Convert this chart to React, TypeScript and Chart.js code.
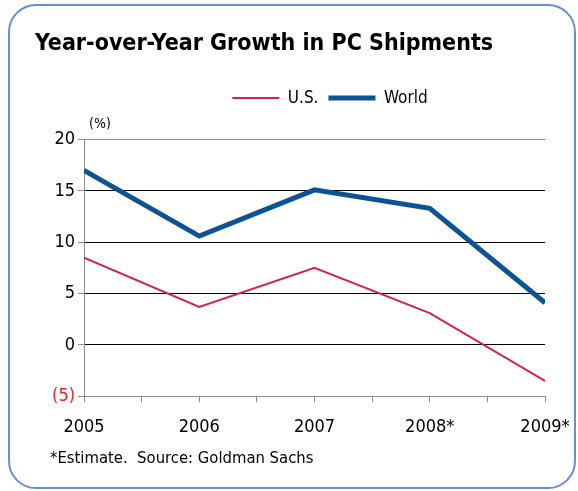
import React, { useEffect, useRef } from 'react';
import { Chart, registerables } from 'chart.js';

Chart.register(...registerables);

const categories = ['2005', '2006', '2007', '2008*', '2009*'];
const usGrowth = [8.5, 3.7, 7.5, 3.1, -3.5];
const worldGrowth = [17.0, 10.6, 15.1, 13.3, 4.1];
const seriesNames = ['U.S.', 'World'];
const yMin = -5;
const yMax = 20;
const yStep = 5;
const titleText = 'Year-over-Year Growth in PC Shipments';
const footerText = '*Estimate.  Source: Goldman Sachs';
const unitLabel = '(%)';

const FONT = "'DejaVu Sans Condensed', 'DejaVu Sans', sans-serif";
const US_COLOR = '#d6204d';
const WORLD_COLOR = '#0b5394';
const AXIS_GRAY = '#8c8c8c';
const LEGEND_EXTRA_GAP = 23;

const shiftPlugin = {
  id: 'shiftBoxes',
  beforeLayout(chart: any) {
    const lg = chart.legend;
    if (lg && !lg.__patched) {
      const origFit = lg.fit.bind(lg);
      lg.fit = () => {
        origFit();
        lg.height += LEGEND_EXTRA_GAP;
      };
      lg.__patched = true;
    }
  },
  afterLayout(chart: any) {
    const lg = chart.legend;
    if (lg) {
      lg.left += 40;
      lg.right += 40;
    }
    for (const b of chart.boxes) {
      if (b && b.options && b.options.text === footerText) {
        b.left += 15;
        b.right += 15;
      }
    }
  },
};

const unitPlugin = {
  id: 'unitLabel',
  afterDraw(chart: any) {
    const { ctx, chartArea } = chart;
    ctx.save();
    ctx.font = `14px ${FONT}`;
    ctx.fillStyle = '#000';
    ctx.textAlign = 'center';
    ctx.textBaseline = 'middle';
    ctx.fillText(unitLabel, chartArea.left + 16, chartArea.top - 15);
    ctx.restore();
  },
};

export default function App() {
  const ref = useRef<HTMLCanvasElement>(null);

  useEffect(() => {
    const canvas = ref.current!;
    const toPoints = (arr: number[]) => arr.map((v, i) => ({ x: i, y: v }));
    const chart = new Chart(canvas, {
      type: 'line',
      data: {
        datasets: [
          {
            label: seriesNames[0],
            data: toPoints(usGrowth),
            borderColor: US_COLOR,
            backgroundColor: US_COLOR,
            borderWidth: 2,
            pointRadius: 0,
            tension: 0,
          },
          {
            label: seriesNames[1],
            data: toPoints(worldGrowth),
            borderColor: WORLD_COLOR,
            backgroundColor: WORLD_COLOR,
            borderWidth: 5,
            pointRadius: 0,
            tension: 0,
          },
        ],
      },
      options: {
        responsive: false,
        animation: false,
        layout: { padding: { left: 35, right: 33, top: 0, bottom: 0 } },
        plugins: {
          tooltip: { enabled: false },
          title: {
            display: true,
            text: titleText,
            align: 'start',
            color: '#000',
            font: { family: FONT, size: 23, weight: 'bold' },
            padding: { top: 30, bottom: 22 },
          },
          subtitle: {
            display: true,
            text: footerText,
            position: 'bottom',
            align: 'start',
            color: '#000',
            font: { family: FONT, size: 16.5, weight: 'normal' },
            padding: { top: 0, bottom: 22 },
          },
          legend: {
            display: true,
            position: 'top',
            align: 'center',
            labels: {
              usePointStyle: true,
              pointStyleWidth: 47,
              color: '#000',
              font: { family: FONT, size: 17 },
              padding: 10,
              generateLabels: (ch: any) =>
                ch.data.datasets.map((ds: any, i: number) => ({
                  text: ds.label,
                  strokeStyle: ds.borderColor,
                  fillStyle: ds.borderColor,
                  lineWidth: ds.borderWidth,
                  pointStyle: 'line',
                  hidden: false,
                  datasetIndex: i,
                  fontColor: '#000',
                })),
            },
          },
        },
        scales: {
          x: {
            type: 'linear',
            min: 0,
            max: categories.length - 1,
            afterFit: (s: any) => {
              s.height = 53;
              s.paddingRight = 0;
              s.paddingLeft = 0;
            },
            ticks: {
              stepSize: 0.5,
              autoSkip: false,
              maxRotation: 0,
              padding: 14,
              color: '#000',
              font: { family: FONT, size: 18 },
              callback: (v: any) => (Number.isInteger(v) ? categories[v] : ''),
            },
            grid: {
              drawOnChartArea: false,
              drawTicks: true,
              tickLength: 6,
              tickColor: AXIS_GRAY,
              color: AXIS_GRAY,
            },
            border: { display: true, color: AXIS_GRAY, width: 1 },
          },
          y: {
            min: yMin,
            max: yMax,
            afterFit: (s: any) => {
              s.width = 49;
            },
            ticks: {
              stepSize: yStep,
              padding: 3,
              font: { family: FONT, size: 18 },
              color: (c: any) => (c.tick && c.tick.value < 0 ? '#dd2a2a' : '#000'),
              callback: (v: any) => (v < 0 ? `(${-v})` : String(v)),
            },
            grid: {
              drawTicks: true,
              tickLength: 6,
              tickColor: AXIS_GRAY,
              color: (c: any) =>
                c.tick && (c.tick.value === yMax || c.tick.value === yMin) ? AXIS_GRAY : '#000',
              lineWidth: 1,
            },
            border: { display: true, color: AXIS_GRAY, width: 1 },
          },
        },
      },
      plugins: [shiftPlugin, unitPlugin],
    } as any);
    return () => chart.destroy();
  }, []);

  return (
    <div style={{ position: 'absolute', left: 0, top: 0, width: 578, height: 491, background: '#fff' }}>
      <div
        style={{
          position: 'absolute',
          left: 8,
          top: 4,
          width: 568,
          height: 485,
          boxSizing: 'border-box',
          border: '2px solid #6b8dd2',
          borderRadius: 28,
        }}
      />
      <canvas
        ref={ref}
        width={578}
        height={491}
        style={{ position: 'absolute', left: 0, top: 0, width: 578, height: 491 }}
      />
    </div>
  );
}
